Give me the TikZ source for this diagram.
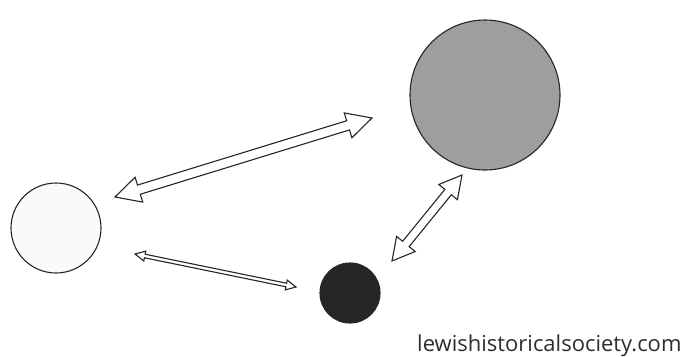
\documentclass[tikz,border=0pt]{standalone}
\usepackage{fontspec}
\setmainfont{Open Sans}
\usetikzlibrary{calc}
\tikzset{
  ball/.style={circle,draw=black!85,line width=1.1pt,inner sep=0pt},
  arrowline/.style={draw=black!85,fill=white,line width=1.1pt,line join=miter},
  credit/.style={anchor=base west,inner sep=0pt,font=\fontsize{22}{26}\selectfont,text=black!82}
}
% #1,#2 tips; #3 shaft half width; #4 head half width; #5 head length
\newcommand\hollowarrow[5]{%
  \path[arrowline]
    ($(#1)!#5!(#2)!#3!90:(#2)$) -- ($(#1)!#5!(#2)!#4!90:(#2)$) -- (#1) --
    ($(#1)!#5!(#2)!#4!-90:(#2)$) -- ($(#1)!#5!(#2)!#3!-90:(#2)$) --
    ($(#2)!#5!(#1)!#3!90:(#1)$) -- ($(#2)!#5!(#1)!#4!90:(#1)$) -- (#2) --
    ($(#2)!#5!(#1)!#4!-90:(#1)$) -- ($(#2)!#5!(#1)!#3!-90:(#1)$) -- cycle;}
\begin{document}
\begin{tikzpicture}[x=1pt,y=-1pt]
\useasboundingbox[fill=white] (0,0) rectangle (687,356);
\node[ball,minimum size=90pt,fill=black!2] (left) at (56,228) {};
\node[ball,minimum size=150pt,fill=black!38] (big) at (485,95) {};
\node[ball,minimum size=60pt,fill=black!85] (dark) at (350,293) {};
\coordinate (a1) at (115,197);
\coordinate (b1) at (372,118);
\coordinate (a2) at (135,254);
\coordinate (b2) at (296,287);
\coordinate (a3) at (462,175);
\coordinate (b3) at (392,261);
\hollowarrow{a1}{b1}{4.8pt}{13pt}{25pt}
\hollowarrow{a2}{b2}{1.8pt}{5pt}{10pt}
\hollowarrow{a3}{b3}{4.2pt}{12pt}{22pt}
\node[credit] (site) at (417,351) {lewishistoricalsociety.com};
\end{tikzpicture}
\end{document}
